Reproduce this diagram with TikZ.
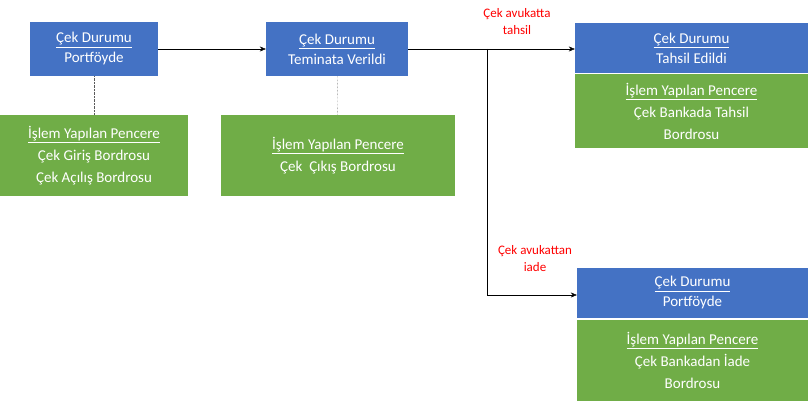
\documentclass[tikz,border=0pt]{standalone}
\usepackage{fontspec}
\setmainfont{Carlito}
\usetikzlibrary{arrows.meta}
\definecolor{bl}{HTML}{4472C4}
\definecolor{gr}{HTML}{70AD47}
\definecolor{rd}{HTML}{FF0000}
\begin{document}
\begin{tikzpicture}[x=1pt,y=-1pt,
  bbox/.style={fill=bl,text=white,inner sep=0,align=center,font=\fontsize{15}{20}\selectfont},
  gbox/.style={fill=gr,text=white,inner sep=0,align=center,font=\fontsize{15}{22}\selectfont},
  lab/.style={text=rd,align=center,font=\fontsize{13}{17}\selectfont},
  dot/.style={densely dotted,gray!70!black},
  arr/.style={-{Stealth[length=6pt,width=5pt]},black}]
\useasboundingbox[fill=white] (0,0) rectangle (809,406);
\node[bbox,minimum width=128,minimum height=54] (b1) at (94,49) {\underline{Çek Durumu}\\Portföyde};
\node[gbox,minimum width=188,minimum height=81] (g1) at (94,155.5) {\underline{İşlem Yapılan Pencere}\\Çek Giriş Bordrosu\\Çek Açılış Bordrosu};
\node[bbox,minimum width=142,minimum height=54] (b2) at (337,49) {\underline{Çek Durumu}\\Teminata Verildi};
\node[gbox,minimum width=234,minimum height=81] (g2) at (338,155.5) {\underline{İşlem Yapılan Pencere}\\Çek\ \ Çıkış Bordrosu};
\node[bbox,minimum width=233,minimum height=50] (b3) at (691.5,48) {\underline{Çek Durumu}\\Tahsil Edildi};
\node[gbox,minimum width=233,minimum height=74] (g3) at (691.5,111) {\underline{İşlem Yapılan Pencere}\\Çek Bankada Tahsil\\Bordrosu};
\node[bbox,minimum width=231,minimum height=50] (b4) at (692.5,293) {\underline{Çek Durumu}\\Portföyde};
\node[gbox,minimum width=231,minimum height=81] (g4) at (692.5,360) {\underline{İşlem Yapılan Pencere}\\Çek Bankadan İade\\Bordrosu};
\draw[dot] (b1) -- (g1);
\draw[dot] (b2) -- (g2);
\draw[arr] (b1) -- (b2);
\coordinate (j) at (487,49);
\coordinate (k) at (487,295);
\draw[arr] (b2.east) -- (b3.west |- b2.east);
\draw[arr] (j) -- (k) -- (b4.west |- k);
\node[lab] (l1) at (517,22) {Çek avukatta\\tahsil};
\node[lab] (l2) at (535,259) {Çek avukattan\\iade};
\end{tikzpicture}
\end{document}
